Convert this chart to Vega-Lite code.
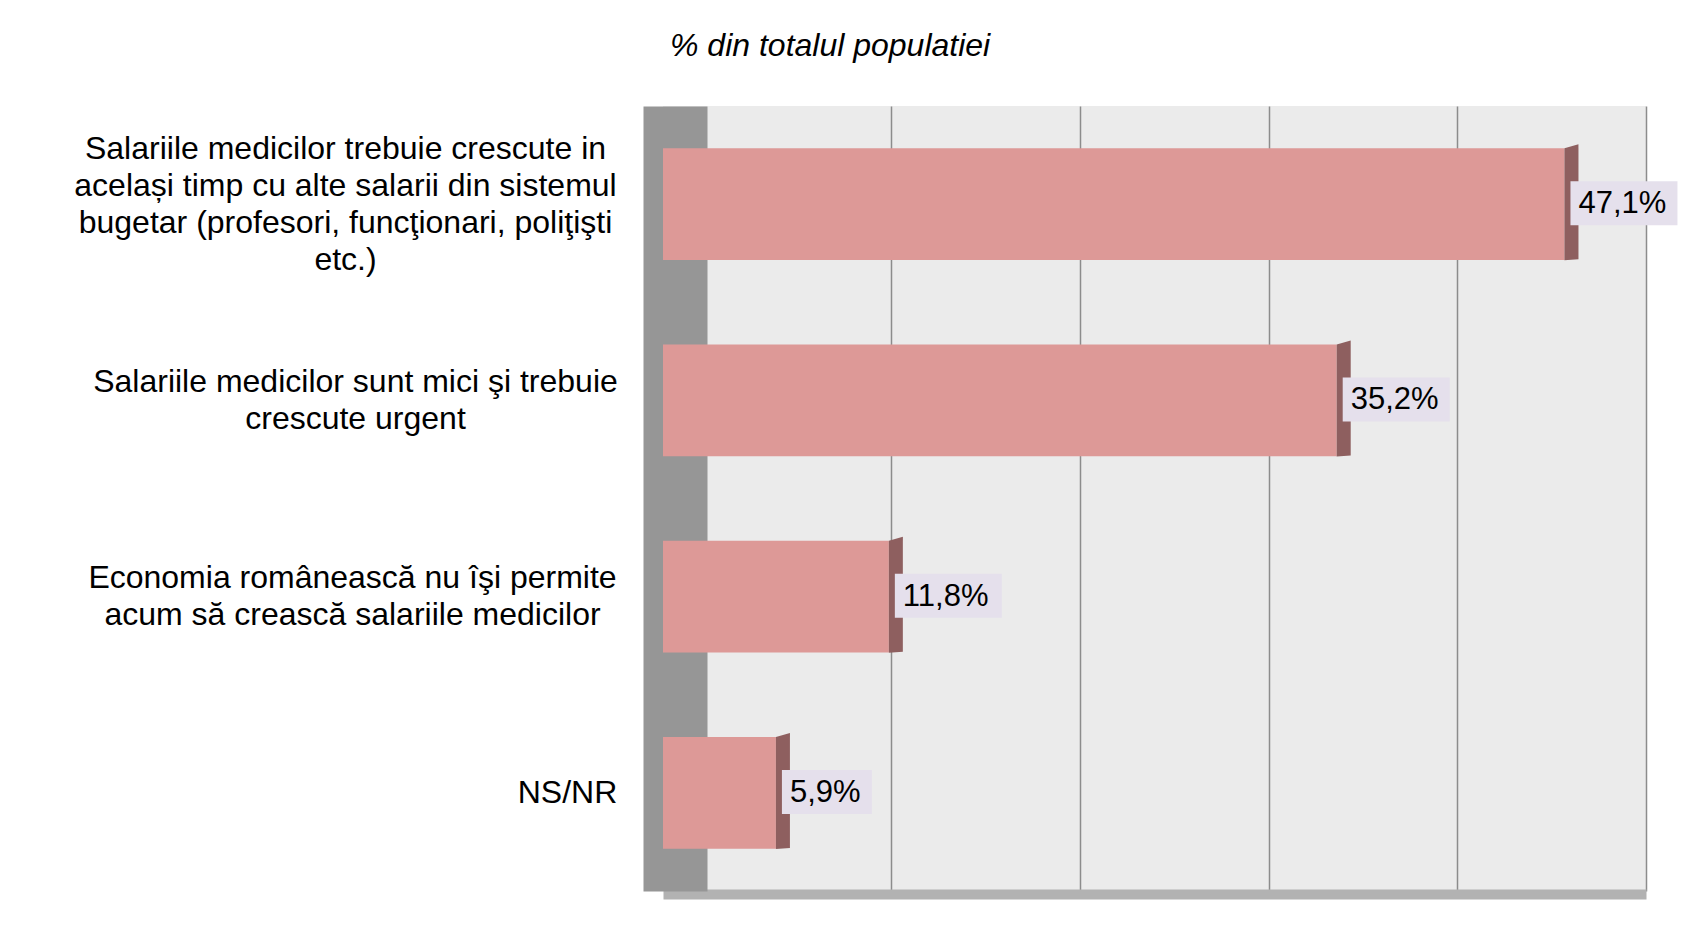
{
  "$schema": "https://vega.github.io/schema/vega-lite/v6.json",
  "autosize": "none",
  "padding": {"left": 663, "top": 106, "right": 44, "bottom": 34},
  "width": 983,
  "height": 785,
  "background": "white",
  "config": {
    "font": "Liberation Sans",
    "view": {"fill": "#ebebeb", "stroke": null}
  },
  "title": {
    "text": "% din totalul populatiei",
    "fontStyle": "italic",
    "fontWeight": "normal",
    "fontSize": 32,
    "color": "black",
    "anchor": "start",
    "frame": "group",
    "dx": 7,
    "offset": 43
  },
  "data": {
    "values": [
      {"cat": "Salariile medicilor trebuie crescute in|același timp cu alte salarii din sistemul|bugetar (profesori, funcţionari, poliţişti|etc.)", "v": 47.1, "label": "47,1%"},
      {"cat": "Salariile medicilor sunt mici şi trebuie|crescute urgent", "v": 35.2, "label": "35,2%"},
      {"cat": "Economia românească nu îşi permite|acum să crească salariile medicilor", "v": 11.8, "label": "11,8%"},
      {"cat": "NS/NR", "v": 5.9, "label": "5,9%"}
    ]
  },
  "encoding": {
    "y": {
      "field": "cat",
      "type": "nominal",
      "sort": null,
      "scale": {"paddingInner": 0.43, "paddingOuter": 0.215},
      "axis": {
        "title": null,
        "ticks": false,
        "offset": -12,
        "domainColor": "#969696",
        "domainWidth": 64,
        "labelExpr": "split(datum.value, '|')",
        "labelAlign": "center",
        "labelBaseline": "middle",
        "labelFontSize": 32,
        "labelLineHeight": 37,
        "labelColor": "black",
        "labelLimit": 0,
        "labelPadding": {
          "condition": [
            {"test": "datum.value == 'NS/NR'", "value": 108},
            {"test": "indexof(datum.value, 'urgent') >= 0", "value": 320},
            {"test": "indexof(datum.value, 'Economia') >= 0", "value": 323}
          ],
          "value": 330
        },
        "labelOffset": {
          "condition": [
            {"test": "datum.value == 'NS/NR'", "value": 0},
            {"test": "indexof(datum.value, 'etc.') >= 0", "value": -55.5}
          ],
          "value": -18.5
        }
      }
    }
  },
  "layer": [
    {
      "mark": {"type": "bar", "opacity": 0},
      "encoding": {
        "x": {
          "field": "v",
          "type": "quantitative",
          "scale": {"domain": [-2.08, 50], "nice": false, "zero": false},
          "axis": {
            "orient": "bottom",
            "title": null,
            "labels": false,
            "ticks": false,
            "domain": false,
            "grid": true,
            "values": [10, 20, 30, 40, 50],
            "gridColor": "#8c8c8c",
            "gridWidth": 1.5
          }
        }
      }
    },
    {
      "encoding": {
        "x": {
          "field": "v",
          "type": "quantitative",
          "scale": {"domain": [0, 51.36], "nice": false},
          "axis": {
            "orient": "bottom",
            "title": null,
            "labels": false,
            "ticks": false,
            "grid": false,
            "offset": 3,
            "domainColor": "#b2b2b2",
            "domainWidth": 10
          }
        }
      },
      "layer": [
        {"mark": {"type": "bar", "fill": "#dd9997"}},
        {
          "mark": {"type": "point", "filled": true, "size": 4, "opacity": 1, "fill": "#8e5f5f", "stroke": null, "shape": "M0,-56L14,-60L14,55L0,56Z"}
        },
        {
          "mark": {"type": "point", "filled": true, "size": 4, "opacity": 1, "fill": "#e5e0ec", "stroke": null},
          "encoding": {
            "shape": {
              "condition": {"test": "datum.v < 10", "value": "M6,-23H96V21H6Z"},
              "value": "M6,-23H113V21H6Z"
            }
          }
        },
        {
          "mark": {"type": "text", "align": "left", "baseline": "middle", "dx": 14, "fontSize": 31, "color": "black"},
          "encoding": {"text": {"field": "label"}}
        }
      ]
    }
  ],
  "resolve": {"scale": {"x": "independent"}, "axis": {"x": "independent"}}
}
